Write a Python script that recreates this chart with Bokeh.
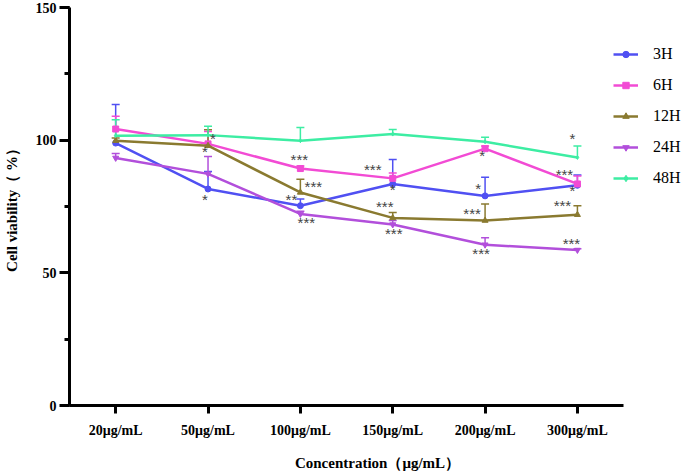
from bokeh.plotting import figure
from bokeh.models import (ColumnDataSource, Range1d, FixedTicker, SingleIntervalTicker,
                          Whisker, TeeHead, Legend, LegendItem)
from bokeh.core.properties import value
from bokeh.embed import file_html
from bokeh.resources import INLINE

concentrations = ["20μg/mL", "50μg/mL", "100μg/mL", "150μg/mL", "200μg/mL", "300μg/mL"]

series_names = ["3H", "6H", "12H", "24H", "48H"]
viab_3h = [98.9, 81.6, 75.3, 83.5, 79.0, 83.0]
viab_6h = [104.2, 98.6, 89.3, 85.6, 96.8, 83.5]
viab_12h = [99.8, 97.9, 80.3, 70.7, 69.7, 71.9]
viab_24h = [93.3, 87.3, 72.2, 68.2, 60.6, 58.6]
viab_48h = [101.7, 101.9, 99.8, 102.3, 99.4, 93.5]

err_3h = [14.5, 6.6, 2.5, 9.2, 7.0, 3.9]
err_6h = [4.8, 4.7, 1.0, 2.0, 1.0, 3.0]
err_12h = [1.0, 6.0, 5.0, 2.0, 6.2, 3.4]
err_24h = [1.7, 6.5, 1.0, 1.5, 2.6, 0.5]
err_48h = [6.0, 3.3, 5.0, 1.7, 1.7, 4.3]

colors = ["#5050F2", "#F24BD4", "#8A7A30", "#B24FDB", "#3DEDA3"]
markers = ["circle", "square", "triangle", "inverted_triangle", "diamond"]
marker_sizes = [6, 6, 6, 6, 4]

# significance marks: concentration index, text, y-position (value), x nudge in px
star_idx = [1, 1, 1,
            2, 2, 2, 2,
            3, 3, 3, 3,
            4, 4, 4, 4,
            5, 5, 5, 5, 5]
star_text = ["*", "*", "*",
             "***", "***", "**", "***",
             "***", "*", "***", "***",
             "*", "*", "***", "***",
             "*", "***", "*", "***", "***"]
star_y = [100.8, 95.8, 77.8,
          92.7, 82.5, 77.8, 69.0,
          89.1, 81.4, 75.0, 64.9,
          94.2, 81.6, 72.2, 57.4,
          100.7, 87.2, 81.2, 75.2, 60.9]
star_dx = [5, -3, -3,
           -1, 13, -9, 6,
           -20, 0, -8, 1,
           -3, -7, -13, -4,
           -5, -13, -5, -15, -6]

values = [viab_3h, viab_6h, viab_12h, viab_24h, viab_48h]
errors = [err_3h, err_6h, err_12h, err_24h, err_48h]

SERIF = "Liberation Serif"

n = len(concentrations)
xpos = [i + 0.5 for i in range(n)]

W, H = 685, 476
LEFT, TOP, BOTTOM = 68, 7, 71
axis_px = 555  # pixel length of the drawn x axis
frame_w = W - LEFT
x_end = n * frame_w / axis_px

p = figure(x_range=Range1d(0, x_end), y_range=Range1d(0, 150),
           width=W, height=H,
           min_border_left=LEFT, min_border_right=0, min_border_top=TOP, min_border_bottom=BOTTOM,
           output_backend="svg", toolbar_location=None)
p.outline_line_color = None
p.xgrid.visible = False
p.ygrid.visible = False

# axes
p.yaxis.ticker = SingleIntervalTicker(interval=50, num_minor_ticks=2)
p.xaxis.ticker = FixedTicker(ticks=xpos, minor_ticks=[])
p.xaxis.major_label_overrides = {x: c for x, c in zip(xpos, concentrations)}
p.xaxis.bounds = (0, n)
for ax in (p.xaxis[0], p.yaxis[0]):
    ax.axis_line_width = 3
    ax.axis_line_color = "black"
    ax.major_tick_line_width = 3
    ax.major_tick_in = 0
    ax.major_label_text_font = SERIF
    ax.major_label_text_font_style = "bold"
    ax.major_label_text_font_size = "14px"
    ax.major_label_text_color = "black"
    ax.axis_label_text_font = SERIF
    ax.axis_label_text_font_style = "bold"
    ax.axis_label_text_font_size = "15px"
    ax.axis_label_text_color = "black"
p.yaxis.major_tick_out = 10
p.yaxis.minor_tick_out = 5
p.yaxis.minor_tick_in = 0
p.yaxis.minor_tick_line_width = 3
p.yaxis.major_label_standoff = 3
p.yaxis.axis_label_standoff = 13
p.yaxis.axis_label = "Cell viability（ %）"
p.xaxis.major_tick_out = 8
p.xaxis.minor_tick_out = 0
p.xaxis.major_label_standoff = 9
p.xaxis.axis_label_standoff = 14
p.xaxis.axis_label = "Concentration（μg/mL）"

items = []
for name, vals, errs, col, mk, ms in zip(series_names, values, errors, colors, markers, marker_sizes):
    src = ColumnDataSource(dict(x=xpos, y=vals,
                                up=[v + e for v, e in zip(vals, errs)]))
    w = Whisker(base="x", lower="y", upper="up", source=src, dimension="height",
                line_color=col, line_width=1.5,
                upper_head=TeeHead(size=8, line_color=col, line_width=1.5),
                lower_head=None)
    p.add_layout(w)
    ln = p.line("x", "y", source=src, line_color=col, line_width=2.5)
    sc = p.scatter("x", "y", source=src, marker=mk, size=ms, fill_color=col, line_color=col)
    items.append(LegendItem(label=name, renderers=[ln, sc]))

star_src = ColumnDataSource(dict(x=[xpos[i] for i in star_idx], y=star_y, t=star_text, dx=star_dx))
p.text("x", "y", text="t", source=star_src, x_offset="dx", y_offset=0,
       text_font=value("Liberation Sans"), text_font_size="15px", text_color="#444444",
       text_align="center", text_baseline="middle")

legend = Legend(items=items, location=(544, 218), padding=0, margin=0,
                glyph_width=25, glyph_height=16, label_height=16, spacing=13,
                label_standoff=15, label_text_font=SERIF, label_text_font_size="16px",
                label_text_color="black", background_fill_alpha=0, border_line_color=None)
p.add_layout(legend, "center")

open("out.html", "w").write(file_html(p, INLINE))
